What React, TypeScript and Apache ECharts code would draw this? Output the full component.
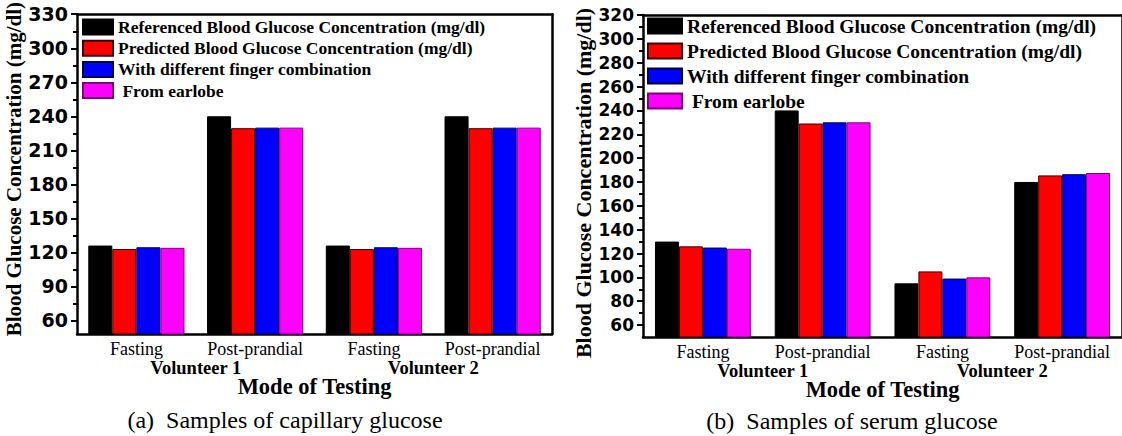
import React, { useEffect, useRef } from "react";
import * as echarts from "echarts";

const categories = ["Fasting", "Post-prandial", "Fasting", "Post-prandial"];
const volunteers = ["Volunteer 1", "Volunteer 2"];
const seriesNames = [
  "Referenced Blood Glucose Concentration (mg/dl)",
  "Predicted Blood Glucose Concentration (mg/dl)",
  "With different finger combination",
  " From earlobe",
];
const seriesColors = ["#000000", "#ff0000", "#0000ff", "#ff00ff"];
const seriesBorders = ["#000000", "#3a0000", "#00003a", "#7a007a"];

// (a) capillary glucose
const capReferenced = [126, 240, 126, 240];
const capPredicted = [123, 229.5, 123, 229.5];
const capFinger = [124.5, 230, 124.5, 230];
const capEarlobe = [124, 230, 124, 230];
const capTicks = [60, 90, 120, 150, 180, 210, 240, 270, 300, 330];
const capMinorTicks = [75, 105, 135, 165, 195, 225, 255, 285, 315];

// (b) serum glucose
const serReferenced = [130, 240, 95, 180];
const serPredicted = [126, 229, 105, 185.5];
const serFinger = [125, 230, 99, 186.5];
const serEarlobe = [124, 230, 100, 187.5];
const serTicks = [60, 80, 100, 120, 140, 160, 180, 200, 220, 240, 260, 280, 300, 320];
const serMinorTicks = [70, 90, 110, 130, 150, 170, 190, 210, 230, 250, 270, 290, 310];

const yName = "Blood Glucose Concentration (mg/dl)";
const xName = "Mode of Testing";
const captionA = "(a)\u00a0 Samples of capillary glucose";
const captionB = "(b)\u00a0 Samples of serum glucose";

const SERIF = "Liberation Serif";
const SANS = "DejaVu Sans";

function buildPanel(
  gridIndex: number,
  min: number,
  max: number,
  ticks: number[],
  minor: number[],
  labelSize: number,
  nameSize: number,
  namePad: number[]
) {
  const xAxes = [
    {
      type: "category",
      gridIndex,
      data: categories,
      position: "bottom",
      axisLine: { lineStyle: { color: "#000", width: 2.5 } },
      axisTick: { alignWithLabel: true, length: 6, lineStyle: { width: 2, color: "#000" } },
      axisLabel: { interval: 0, fontFamily: SERIF, fontSize: 18, color: "#000", margin: 6 },
      name: xName,
      nameLocation: "middle",
      nameGap: 41,
      nameTextStyle: { fontFamily: SERIF, fontWeight: "bold", fontSize: 22.5, color: "#000" },
    },
    {
      type: "category",
      gridIndex,
      data: categories,
      position: "bottom",
      axisLine: { show: false },
      axisTick: { interval: 0, length: 3, lineStyle: { width: 2, color: "#000" } },
      axisLabel: { show: false },
    },
    {
      type: "category",
      gridIndex,
      data: volunteers,
      position: "bottom",
      offset: 18,
      axisLine: { show: false },
      axisTick: { show: false },
      axisLabel: { interval: 0, fontFamily: SERIF, fontWeight: "bold", fontSize: 18.5, color: "#000", margin: 6 },
    },
    {
      type: "category",
      gridIndex,
      data: categories,
      position: "top",
      axisLine: { lineStyle: { color: "#000", width: 2.5 } },
      axisTick: { show: false },
      axisLabel: { show: false },
    },
  ];
  const yAxes = [
    {
      type: "value",
      gridIndex,
      min,
      max,
      position: "left",
      splitLine: { show: false },
      axisLine: { show: true, lineStyle: { color: "#000", width: 2.5 } },
      axisTick: { show: true, customValues: ticks, length: 6, lineStyle: { width: 2, color: "#000" } },
      axisLabel: {
        customValues: ticks,
        fontFamily: SANS,
        fontWeight: "bold",
        fontSize: labelSize,
        color: "#000",
        margin: 9,
      },
      name: yName,
      nameLocation: "middle",
      nameGap: 49,
      nameTextStyle: {
        fontFamily: SERIF,
        fontWeight: "bold",
        fontSize: nameSize,
        color: "#000",
        padding: namePad,
      },
    },
    {
      type: "value",
      gridIndex,
      min,
      max,
      position: "left",
      splitLine: { show: false },
      axisLine: { show: false },
      axisTick: { show: true, customValues: minor, length: 4, lineStyle: { width: 2, color: "#000" } },
      axisLabel: { show: false },
    },
    {
      type: "value",
      gridIndex,
      min,
      max,
      position: "right",
      splitLine: { show: false },
      axisLine: { show: true, lineStyle: { color: "#000", width: 2.5 } },
      axisTick: { show: false },
      axisLabel: { show: false },
    },
  ];
  return { xAxes, yAxes };
}

function makeSeries(values: number[][], xAxisIndex: number, yAxisIndex: number, gap: string) {
  return values.map((data, i) => ({
    type: "bar",
    name: seriesNames[i],
    xAxisIndex,
    yAxisIndex,
    data,
    barGap: "0%",
    barCategoryGap: gap,
    itemStyle: { color: seriesColors[i], borderColor: seriesBorders[i], borderWidth: 1 },
  }));
}

export default function App() {
  const ref = useRef<HTMLDivElement>(null);
  useEffect(() => {
    if (!ref.current) return;
    const chart = echarts.init(ref.current, undefined, { renderer: "svg" });
    const a = buildPanel(0, 48, 330, capTicks, capMinorTicks, 19, 21, [0, 0, 0, 10]);
    const b = buildPanel(1, 50, 320, serTicks, serMinorTicks, 17, 22, [0, 14, 0, 0]);
    const option = {
      animation: false,
      backgroundColor: "#ffffff",
      grid: [
        { left: 77, top: 12, width: 475, height: 322 },
        { left: 643, top: 15, width: 483, height: 322 },
      ],
      xAxis: [...a.xAxes, ...b.xAxes],
      yAxis: [...a.yAxes, ...b.yAxes],
      legend: [
        {
          data: seriesNames,
          orient: "vertical",
          left: 82,
          top: 18,
          padding: 0,
          icon: "rect",
          itemWidth: 30,
          itemHeight: 15,
          itemGap: 3.2,
          selectedMode: false,
          textStyle: { fontFamily: SERIF, fontWeight: "bold", fontSize: 17.5, color: "#000" },
        },
        {
          data: seriesNames,
          orient: "vertical",
          left: 647,
          top: 16,
          padding: 0,
          icon: "rect",
          itemWidth: 34,
          itemHeight: 15,
          itemGap: 5,
          selectedMode: false,
          textStyle: { fontFamily: SERIF, fontWeight: "bold", fontSize: 19.5, color: "#000" },
        },
      ],
      graphic: [
        {
          type: "text",
          x: 285,
          y: 420,
          style: {
            text: captionA,
            fontFamily: SERIF,
            fontSize: 24,
            fill: "#000",
            textAlign: "center",
            textVerticalAlign: "middle",
          },
        },
        {
          type: "text",
          x: 852,
          y: 421,
          style: {
            text: captionB,
            fontFamily: SERIF,
            fontSize: 24,
            fill: "#000",
            textAlign: "center",
            textVerticalAlign: "middle",
          },
        },
      ],
      series: [
        ...makeSeries([capReferenced, capPredicted, capFinger, capEarlobe], 0, 0, "19%"),
        ...makeSeries([serReferenced, serPredicted, serFinger, serEarlobe], 4, 3, "20%"),
      ],
    };
    chart.setOption(option as any);
    return () => chart.dispose();
  }, []);
  return (
    <div
      ref={ref}
      style={{ position: "fixed", left: 0, top: 0, width: 1122, height: 436, background: "#fff" }}
    />
  );
}
